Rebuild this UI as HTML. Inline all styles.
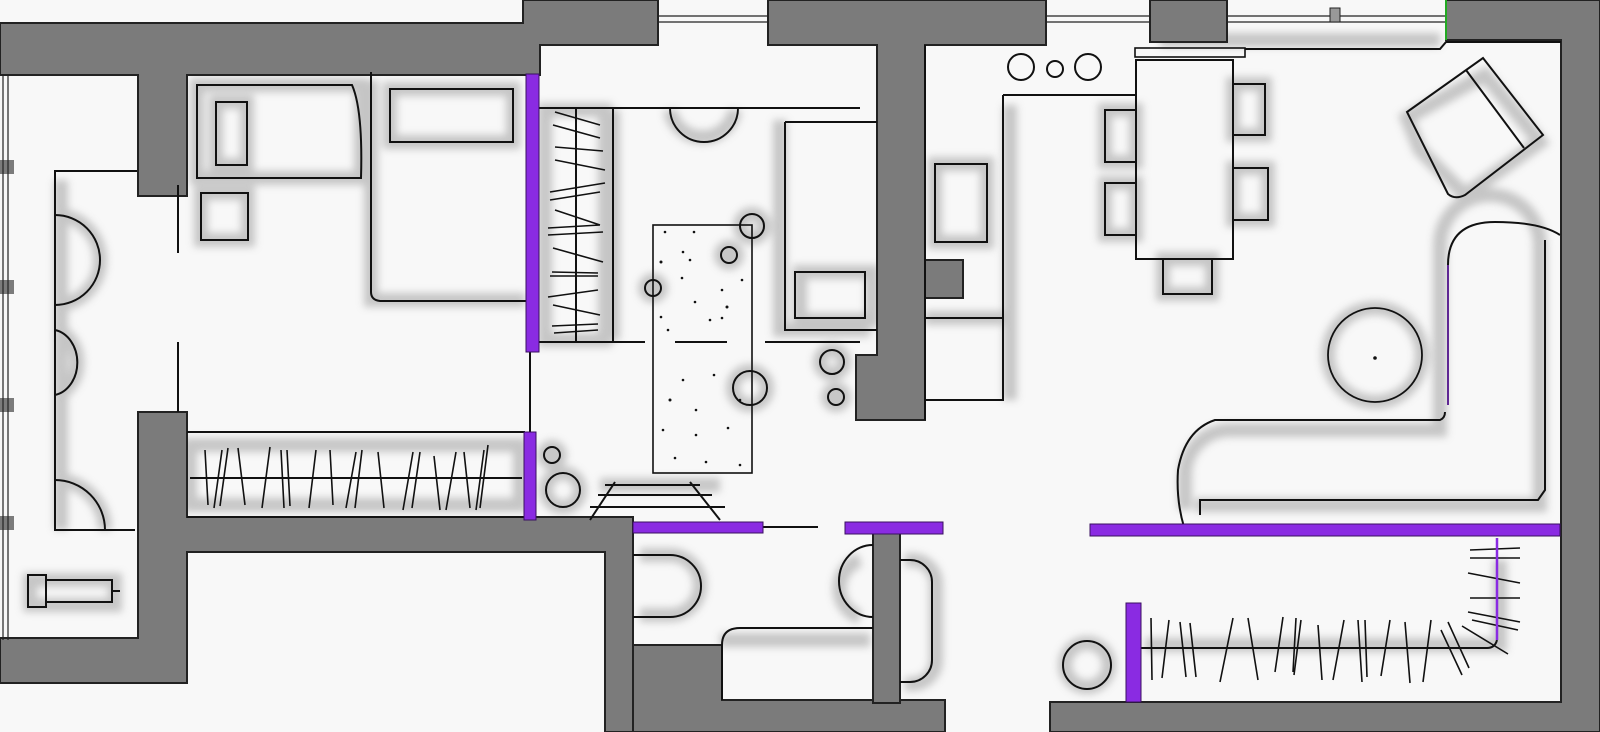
<!DOCTYPE html>
<html><head><meta charset="utf-8"><style>
html,body{margin:0;padding:0;background:#f7f7f7;}
svg{display:block;}
</style></head><body>
<svg width="1600" height="732" viewBox="0 0 1600 732" xmlns="http://www.w3.org/2000/svg">
<defs>
<filter id="b" x="-20%" y="-20%" width="140%" height="140%"><feGaussianBlur stdDeviation="4"/></filter>
</defs>
<rect width="1600" height="732" fill="#f8f8f8"/>

<!-- shadows -->
<g stroke="#b9b9b9" stroke-width="14" fill="none" filter="url(#b)" opacity="0.8">
  <rect x="197" y="85" width="164" height="93"/>
  <rect x="216" y="102" width="31" height="63"/>
  <rect x="201" y="193" width="47" height="47"/>
  <rect x="390" y="89" width="123" height="53"/>
  <path d="M371 80 V300 H525"/>
  <path d="M61 180 V530"/>
  <path d="M55 215 A45 45 0 0 1 55 305"/>
  <path d="M55 330 A27 33 0 0 1 55 395"/>
  <path d="M55 480 A50 50 0 0 1 105 530"/>
  <rect x="190" y="445" width="330" height="60"/>
  <rect x="545" y="110" width="60" height="230"/>
  <path d="M613 110 V340"/>
  <path d="M670 110 A33 33 0 0 0 735 110"/>
  <path d="M780 120 V330 H870"/>
  <rect x="800" y="272" width="72" height="48"/>
  <circle cx="752" cy="226" r="12"/><circle cx="729" cy="255" r="8"/><circle cx="653" cy="288" r="8"/><circle cx="750" cy="388" r="17"/>
  <circle cx="832" cy="362" r="12"/><circle cx="836" cy="397" r="8"/>
  <circle cx="552" cy="455" r="8"/><circle cx="563" cy="490" r="17"/>
  <path d="M600 485 H720"/>
  <path d="M640 555 H670 A30 30 0 0 1 670 615 H640"/>
  <path d="M860 560 A30 30 0 0 0 860 617 M720 640 H870"/>
  <path d="M905 560 H912 A24 24 0 0 1 936 584 V660 A24 24 0 0 1 912 684 H905"/>
  <rect x="935" y="164" width="52" height="78"/>
  <path d="M1010 105 V400 M925 318 H1003"/>
  <rect x="1105" y="110" width="31" height="52"/><rect x="1105" y="183" width="31" height="52"/>
  <rect x="1233" y="84" width="32" height="51"/><rect x="1233" y="168" width="35" height="52"/>
  <rect x="1163" y="259" width="49" height="35"/>
  <path d="M1407 118 L1485 75 L1540 142 L1465 195 L1420 150 Z"/>
  <circle cx="1375" cy="355" r="47"/>
  <path d="M1185 510 V475 A45 45 0 0 1 1230 430 H1440 V245 A30 30 0 0 1 1540 245 V505 H1195"/>
  <path d="M1145 645 H1500 V560"/>
  <circle cx="1087" cy="665" r="22"/>
  <path d="M30 580 H115 V605 H30 Z"/>
  <path d="M1160 40 H1440"/>
</g>

<!-- walls -->
<g fill="#7b7b7b" stroke="#222" stroke-width="2">
  <path d="M0 23 H523 V0 H658 V45 H540 V75 H187 V196 H138 V75 H0 Z"/>
  <path d="M768 0 H1046 V45 H925 V260 H963 V298 H925 V420 H856 V355 H877 V45 H768 Z"/>
  <rect x="1150" y="0" width="77" height="42"/>
  <path d="M1446 0 H1600 V732 H1050 V702 H1561 V40 H1446 Z"/>
  <path d="M138 412 H187 V517 H633 V732 H605 V552 H187 V683 H0 V638 H138 Z"/>
  <path d="M633 645 H722 V700 H945 V732 H633 Z"/>
  <rect x="873" y="525" width="27" height="178"/>
</g>
<g fill="#7b7b7b"><rect x="0" y="160" width="14" height="14"/><rect x="0" y="280" width="14" height="14"/><rect x="0" y="398" width="14" height="14"/><rect x="0" y="516" width="14" height="14"/></g>
<path d="M3 75 V640 M8 75 V640" stroke="#222" stroke-width="1.2"/>
<path d="M658 16 H768 M658 22 H768 M1046 16 H1150 M1046 22 H1150 M1227 16 H1446 M1227 22 H1446" stroke="#222" stroke-width="1.3"/>
<rect x="1330" y="8" width="10" height="14" fill="#999" stroke="#222" stroke-width="1"/>
<path d="M1446 0 V40" stroke="#2a2" stroke-width="2"/>

<!-- furniture lines -->
<g stroke="#111" stroke-width="2" fill="none">
  <path d="M197 85 H352 Q363 110 361 178 H197 Z"/>
  <rect x="216" y="102" width="31" height="63"/>
  <rect x="201" y="193" width="47" height="47"/>
  <rect x="390" y="89" width="123" height="53"/>
  <path d="M371 72 V292 Q371 300 380 301 H527"/>
  <path d="M178 185 V253 M178 342 V412 M530 352 V432"/>
  <path d="M137 171 H55 V530 H135"/>
  <path d="M55 215 A45 45 0 0 1 55 305"/>
  <path d="M55 330 A27 33 0 0 1 55 395"/>
  <path d="M55 480 A50 50 0 0 1 105 530"/>
  <path d="M187 432 H525 M187 517 H525 M190 478 H522"/>
  <rect x="28" y="575" width="18" height="32"/><path d="M46 580 H112 V602 H46 M112 591 H120"/>
  <path d="M538 108 H860 M576 108 V342 M538 342 H645 M675 342 H727 M765 342 H860 M613 108 V342"/>
  <path d="M670 108 A34 34 0 0 0 738 108"/>
  <path d="M785 122 H877 M785 122 V330 H877"/>
  <rect x="795" y="272" width="70" height="46"/>
  <rect x="653" y="225" width="99" height="248" stroke-width="1.6"/>
  <circle cx="752" cy="226" r="12"/><circle cx="729" cy="255" r="8"/><circle cx="653" cy="288" r="8"/><circle cx="750" cy="388" r="17"/>
  <circle cx="832" cy="362" r="12"/><circle cx="836" cy="397" r="8"/>
  <circle cx="552" cy="455" r="8"/><circle cx="563" cy="490" r="17"/>
  <path d="M605 485 H700 M598 495 H712 M590 507 H725 M615 482 L590 520 M690 482 L720 520"/>
  <path d="M763 527 H818"/>
  <path d="M633 555 H670 A30 30 0 0 1 670 617 H633"/>
  <path d="M873 545 A34 36 0 0 0 873 617"/>
  <path d="M722 645 V700 M722 645 Q722 628 740 628 H873"/>
  <path d="M900 560 H910 A22 22 0 0 1 932 582 V660 A22 22 0 0 1 910 682 H900"/>
  <path d="M925 45 V420 M1003 95 V400 H925 M1003 95 H1136 M925 318 H1003"/>
  <rect x="935" y="164" width="52" height="78"/>
  <circle cx="1021" cy="67" r="13"/><circle cx="1055" cy="69" r="8"/><circle cx="1088" cy="67" r="13"/>
  <rect x="1135" y="48" width="110" height="9" stroke-width="1.6"/>
  <rect x="1136" y="60" width="97" height="199"/>
  <rect x="1105" y="110" width="31" height="52"/><rect x="1105" y="183" width="31" height="52"/>
  <rect x="1233" y="84" width="32" height="51"/><rect x="1233" y="168" width="35" height="52"/>
  <rect x="1163" y="259" width="49" height="35"/>
  <path d="M1245 49 H1440 L1446 42 H1561"/>
  <path d="M1407 112 L1483 58 L1543 135 L1465 195 Q1455 200 1448 194 Z M1466 70 L1524 148"/>
  <circle cx="1375" cy="355" r="47" stroke-width="1.8"/>
  <path d="M1448 405 V265 Q1448 222 1495 222 Q1540 222 1560 235 M1545 240 V490 L1538 500 H1200 V515 M1445 412 Q1445 418 1440 420 H1215 Q1185 430 1178 470 Q1176 500 1184 527"/>
  <path d="M1141 648 H1487 Q1495 648 1497 640"/>
  <circle cx="1087" cy="665" r="24"/>
</g>

<!-- hanger strokes -->
<g stroke="#111" stroke-width="1.6">
  <path d="M205 450 L208 505 M222 450 L214 508 M228 448 L220 506 M238 448 L245 505 M270 447 L262 508 M281 450 L284 508 M287 450 L290 506 M316 450 L309 508 M330 450 L333 505 M356 452 L346 508 M362 450 L355 508 M378 452 L384 508 M413 452 L403 510 M420 452 L412 508 M434 456 L440 510 M456 452 L446 510 M464 452 L470 508 M484 450 L476 510 M488 445 L480 508"/>
  <path d="M555 112 L600 125 M553 125 L600 138 M555 147 L603 151 M555 160 L605 170 M550 192 L605 183 M550 200 L600 192 M555 210 L600 225 M548 228 L600 225 M548 235 L603 232 M553 248 L603 262 M552 272 L598 273 M550 276 L598 276 M548 297 L598 290 M553 305 L600 315 M552 326 L598 324 M554 333 L598 330"/>
  <path d="M1151 618 L1152 680 M1169 620 L1162 678 M1180 622 L1186 677 M1190 623 L1196 677 M1233 618 L1220 682 M1248 618 L1258 680 M1283 617 L1275 672 M1296 618 L1293 672 M1301 620 L1294 675 M1318 625 L1322 680 M1344 620 L1333 680 M1358 620 L1362 682 M1365 620 L1367 677 M1390 620 L1381 676 M1405 622 L1410 683 M1431 620 L1423 682 M1441 630 L1462 675 M1448 622 L1469 668"/>
  <path d="M1470 550 L1520 548 M1470 558 L1520 558 M1468 573 L1520 583 M1470 598 L1520 598 M1468 612 L1520 622 M1472 620 L1518 630 M1462 626 L1508 654"/>
</g>
<!-- rug dots -->
<g fill="#111">
  <circle cx="665" cy="232" r="1.3"/><circle cx="694" cy="232" r="1.3"/><circle cx="661" cy="262" r="1.5"/><circle cx="683" cy="252" r="1.3"/><circle cx="690" cy="260" r="1.3"/><circle cx="682" cy="278" r="1.3"/><circle cx="722" cy="290" r="1.3"/><circle cx="742" cy="280" r="1.3"/><circle cx="695" cy="302" r="1.3"/><circle cx="727" cy="307" r="1.5"/><circle cx="661" cy="317" r="1.3"/><circle cx="710" cy="320" r="1.3"/><circle cx="722" cy="318" r="1.3"/><circle cx="668" cy="330" r="1.3"/><circle cx="683" cy="380" r="1.3"/><circle cx="714" cy="375" r="1.3"/><circle cx="670" cy="400" r="1.5"/><circle cx="696" cy="410" r="1.3"/><circle cx="740" cy="400" r="1.3"/><circle cx="663" cy="430" r="1.3"/><circle cx="696" cy="435" r="1.3"/><circle cx="728" cy="428" r="1.3"/><circle cx="675" cy="458" r="1.3"/><circle cx="706" cy="462" r="1.3"/><circle cx="740" cy="465" r="1.3"/><circle cx="1375" cy="358" r="1.8"/>
</g>

<!-- purple partitions -->
<g fill="#8a2be2" stroke="#3a1060" stroke-width="1">
  <rect x="526" y="74" width="13" height="278"/>
  <rect x="524" y="432" width="12" height="88"/>
  <rect x="633" y="522" width="130" height="11"/>
  <rect x="845" y="522" width="98" height="12"/>
  <rect x="1090" y="524" width="470" height="12"/>
  <rect x="1126" y="603" width="15" height="99"/>
</g>
<path d="M1497 538 V640" stroke="#8a2be2" stroke-width="2.5"/>
<path d="M1448 265 V405" stroke="#7a30c0" stroke-width="1.5"/>
</svg>
</body></html>
